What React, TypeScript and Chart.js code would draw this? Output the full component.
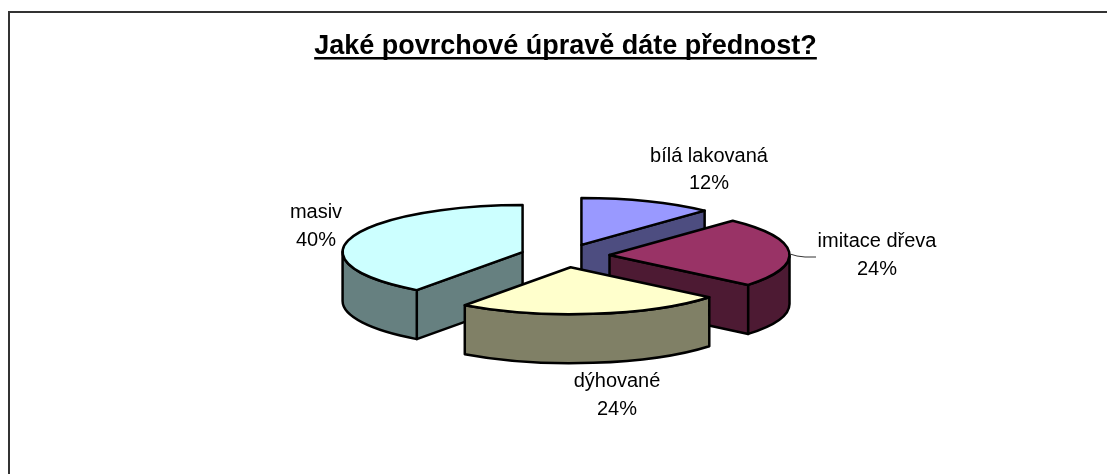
import React, { useEffect, useRef } from "react";
import { Chart, registerables } from "chart.js";

Chart.register(...registerables);

const categories = ["bílá lakovaná", "imitace dřeva", "dýhované", "masiv"];
const shares = [12, 24, 24, 40];
const faceColors = ["#9999FF", "#993366", "#FFFFCC", "#CCFFFF"];
const wallColors = ["#4D4D80", "#4D1A33", "#808066", "#668080"];
const paintOrder = [3, 0, 1, 2];
const labelCentres = [
  [709, 156],
  [877, 241.5],
  [617, 381.5],
  [316, 212],
];
const labelLineHeights = [27, 28, 28, 28];

const TILT = 0.261;
const DEPTH = 49;
const EXPLODE = 44.6;
const PIE_NUDGE_X = -0.5;
const FONT_FAMILY = '"Liberation Sans", Arial, sans-serif';
const TITLE_SIZE = 27;
const LABEL_SIZE = 20;

// Extruded, exploded pie: the library lays out the arcs, this projects them.
const tiltedPie = {
  id: "tiltedPie",
  beforeDatasetDraw() {
    return false;
  },
  afterDatasetsDraw(chart: any) {
    const { ctx } = chart;
    const arcs = chart.getDatasetMeta(0).data;
    ctx.save();
    ctx.lineWidth = 2.5;
    ctx.lineJoin = "round";
    ctx.strokeStyle = "#000";

    for (const i of paintOrder) {
      const { x, y, startAngle, endAngle, outerRadius: rx } = arcs[i];
      const mid = (startAngle + endAngle) / 2;
      const cx = x + PIE_NUDGE_X + Math.cos(mid) * EXPLODE;
      const cy = y + Math.sin(mid) * EXPLODE * TILT;
      const ry = rx * TILT;
      const px = (t: number) => cx + rx * Math.cos(t);
      const py = (t: number) => cy + ry * Math.sin(t);

      const paint = (fill: string) => {
        ctx.fillStyle = fill;
        ctx.fill();
        ctx.stroke();
      };
      const radialWall = (t: number) => {
        ctx.beginPath();
        ctx.moveTo(cx, cy);
        ctx.lineTo(px(t), py(t));
        ctx.lineTo(px(t), py(t) + DEPTH);
        ctx.lineTo(cx, cy + DEPTH);
        ctx.closePath();
        paint(wallColors[i]);
      };

      // Radial walls show only when they turn toward the viewer.
      if (Math.cos(startAngle) < -1e-6) radialWall(startAngle);
      if (Math.cos(endAngle) > 1e-6) radialWall(endAngle);

      // Outer rim, limited to the front half of the ellipse.
      const rimStart = Math.max(startAngle, 0);
      const rimEnd = Math.min(endAngle, Math.PI);
      if (rimEnd > rimStart) {
        ctx.beginPath();
        ctx.ellipse(cx, cy, rx, ry, 0, rimStart, rimEnd);
        ctx.lineTo(px(rimEnd), py(rimEnd) + DEPTH);
        ctx.ellipse(cx, cy + DEPTH, rx, ry, 0, rimEnd, rimStart, true);
        ctx.closePath();
        paint(wallColors[i]);
      }

      // Top face.
      ctx.beginPath();
      ctx.moveTo(cx, cy);
      ctx.ellipse(cx, cy, rx, ry, 0, startAngle, endAngle);
      ctx.closePath();
      paint(faceColors[i]);
    }
    ctx.restore();
  },
  afterDraw(chart: any) {
    const { ctx, height, width } = chart;
    ctx.save();

    // Frame around the chart; it runs past the right and bottom canvas edges.
    ctx.strokeStyle = "#333";
    ctx.lineWidth = 2;
    ctx.strokeRect(9, 12, width + 20, height + 20);

    // Title underline.
    const title = chart.titleBlock;
    ctx.font = `bold ${TITLE_SIZE}px ${FONT_FAMILY}`;
    const tw = ctx.measureText(title.options.text).width;
    const tx = (title.left + title.right) / 2;
    ctx.fillStyle = "#000";
    ctx.fillRect(tx - tw / 2, 57, tw, 2.5);

    // Slice labels with name and share.
    ctx.font = `${LABEL_SIZE}px ${FONT_FAMILY}`;
    ctx.textAlign = "center";
    ctx.textBaseline = "middle";
    ctx.fillStyle = "#000";
    categories.forEach((name, i) => {
      const [lx, ly] = labelCentres[i];
      ctx.fillText(name, lx, ly);
      ctx.fillText(`${shares[i]}%`, lx, ly + labelLineHeights[i]);
    });

    // Leader line to the rim of the second slice.
    ctx.strokeStyle = "#333";
    ctx.lineWidth = 1;
    ctx.beginPath();
    ctx.moveTo(790, 254);
    ctx.lineTo(797, 256);
    ctx.lineTo(805, 257);
    ctx.lineTo(816, 257);
    ctx.stroke();
    ctx.restore();
  },
};

export default function App() {
  const ref = useRef<HTMLCanvasElement>(null);
  useEffect(() => {
    const chart = new Chart(ref.current!, {
      type: "pie",
      data: {
        labels: categories,
        datasets: [{ data: shares, backgroundColor: faceColors }],
      },
      options: {
        animation: false,
        responsive: false,
        radius: 180,
        layout: { padding: { left: 24, right: 0, top: 0, bottom: 25 } },
        plugins: {
          legend: { display: false },
          tooltip: { enabled: false },
          title: {
            display: true,
            text: "Jaké povrchové úpravě dáte přednost?",
            color: "#000",
            font: { family: FONT_FAMILY, size: TITLE_SIZE, weight: "bold" },
            padding: { top: 30, bottom: 0 },
          },
        },
      },
      plugins: [tiltedPie],
    } as any);
    return () => chart.destroy();
  }, []);
  return (
    <div style={{ position: "fixed", left: 0, top: 0, width: 1107, height: 474, background: "#fff" }}>
      <canvas ref={ref} width={1107} height={474} style={{ display: "block" }} />
    </div>
  );
}
